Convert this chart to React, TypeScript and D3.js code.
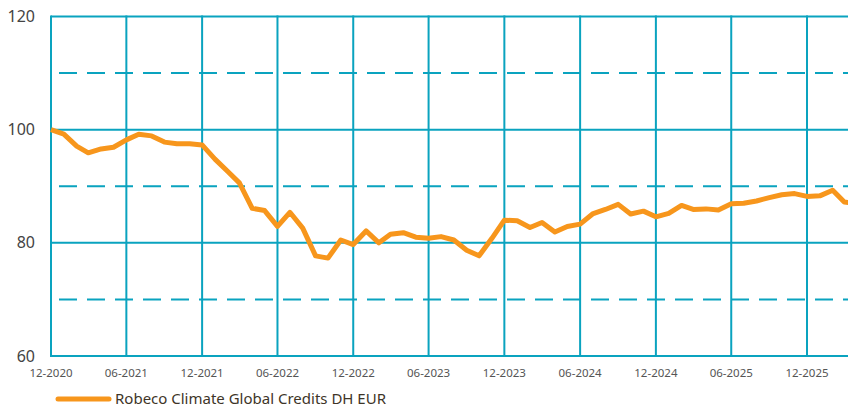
import React, { useEffect, useRef } from 'react';
import * as d3 from 'd3';

// monthly values, starting 12-2020
const startMonth = new Date(2020, 11, 1);
const values = [
  100.0, 99.2, 97.1, 95.9, 96.6, 96.9, 98.2, 99.2, 98.9, 97.8, 97.5, 97.5,
  97.3, 94.8, 92.6, 90.6, 86.1, 85.7, 82.9, 85.4, 82.6, 77.7, 77.3, 80.5,
  79.7, 82.1, 80.0, 81.5, 81.8, 81.0, 80.8, 81.1, 80.5, 78.7, 77.7, 80.8,
  84.0, 83.9, 82.7, 83.6, 81.9, 82.9, 83.3, 85.1, 85.9, 86.8, 85.1, 85.6,
  84.6, 85.2, 86.6, 85.9, 86.0, 85.8, 86.9, 87.0, 87.4, 88.0, 88.5, 88.7,
  88.2, 88.3, 89.3, 87.2, 87.0,
];
const xTickLabels = [
  '12-2020', '06-2021', '12-2021', '06-2022', '12-2022', '06-2023',
  '12-2023', '06-2024', '12-2024', '06-2025', '12-2025',
];
const ySolidTicks = [60, 80, 100, 120];
const yDashedTicks = [70, 90, 110];
const seriesName = 'Robeco Climate Global Credits DH EUR';

const W = 848;
const H = 408;
const GRID = '#0aa3bf';
const ORANGE = '#f7961c';

const App = () => {
  const svgRef = useRef(null);

  useEffect(() => {
    const svg = d3.select(svgRef.current);
    svg.selectAll('*').remove();

    const left = 51;
    const top = 16.5;
    const bottom = 356;

    const parseTick = (s) => new Date(+s.slice(3), +s.slice(0, 2) - 1, 1);
    const tickDates = xTickLabels.map(parseTick);

    const x = d3.scaleTime()
      .domain([tickDates[0], tickDates[tickDates.length - 1]])
      .range([left, 807]);
    const y = d3.scaleLinear().domain([60, 120]).range([bottom, top]);

    const data = values.map((v, i) => ({
      date: d3.timeMonth.offset(startMonth, i),
      value: v,
    }));

    svg.append('defs').append('clipPath').attr('id', 'plotclip')
      .append('rect')
      .attr('x', left - 2).attr('y', top - 4)
      .attr('width', W - left + 2).attr('height', bottom - top + 8);

    const g = svg.append('g');

    // dashed horizontal grid
    g.selectAll('line.dash')
      .data(yDashedTicks)
      .enter().append('line')
      .attr('class', 'dash')
      .attr('x1', left).attr('x2', W)
      .attr('y1', d => y(d)).attr('y2', d => y(d))
      .attr('stroke', GRID)
      .attr('stroke-width', 2)
      .attr('stroke-dasharray', '18,10')
      .attr('stroke-dashoffset', -8);

    // solid horizontal grid
    g.selectAll('line.solid')
      .data(ySolidTicks)
      .enter().append('line')
      .attr('class', 'solid')
      .attr('x1', left).attr('x2', W)
      .attr('y1', d => y(d)).attr('y2', d => y(d))
      .attr('stroke', GRID)
      .attr('stroke-width', 2);

    // vertical grid
    g.selectAll('line.v')
      .data(tickDates)
      .enter().append('line')
      .attr('class', 'v')
      .attr('x1', d => x(d)).attr('x2', d => x(d))
      .attr('y1', top - 1).attr('y2', bottom + 1)
      .attr('stroke', GRID)
      .attr('stroke-width', 2);

    // y labels
    g.selectAll('text.y')
      .data(ySolidTicks)
      .enter().append('text')
      .attr('class', 'y')
      .attr('x', 35)
      .attr('y', d => y(d))
      .attr('dy', '0.35em')
      .attr('text-anchor', 'end')
      .attr('font-family', "'Noto Sans', sans-serif")
      .attr('font-size', 16)
      .attr('fill', '#444')
      .text(d => d);

    // x labels
    g.selectAll('text.x')
      .data(tickDates)
      .enter().append('text')
      .attr('class', 'x')
      .attr('x', d => x(d))
      .attr('y', 377)
      .attr('text-anchor', 'middle')
      .attr('font-family', "'Noto Sans', sans-serif")
      .attr('font-size', 11.5)
      .attr('fill', '#555')
      .text((d, i) => xTickLabels[i]);

    // series line
    const line = d3.line()
      .x(d => x(d.date))
      .y(d => y(d.value));

    g.append('path')
      .datum(data)
      .attr('clip-path', 'url(#plotclip)')
      .attr('fill', 'none')
      .attr('stroke', ORANGE)
      .attr('stroke-width', 5)
      .attr('stroke-linejoin', 'round')
      .attr('d', line);

    // legend
    const legend = svg.append('g').attr('transform', 'translate(58,399)');
    legend.append('line')
      .attr('x1', 0).attr('x2', 51)
      .attr('y1', 0).attr('y2', 0)
      .attr('stroke', ORANGE)
      .attr('stroke-width', 5)
      .attr('stroke-linecap', 'round');
    legend.append('text')
      .attr('x', 57)
      .attr('y', 0)
      .attr('dy', '0.35em')
      .attr('font-family', "'Noto Sans', sans-serif")
      .attr('font-size', 15)
      .attr('fill', '#3e3528')
      .text(seriesName);
  }, []);

  return (
    <svg
      ref={svgRef}
      width={W}
      height={H}
      style={{ position: 'absolute', left: 0, top: 0, background: '#fff' }}
    />
  );
};

export default App;
